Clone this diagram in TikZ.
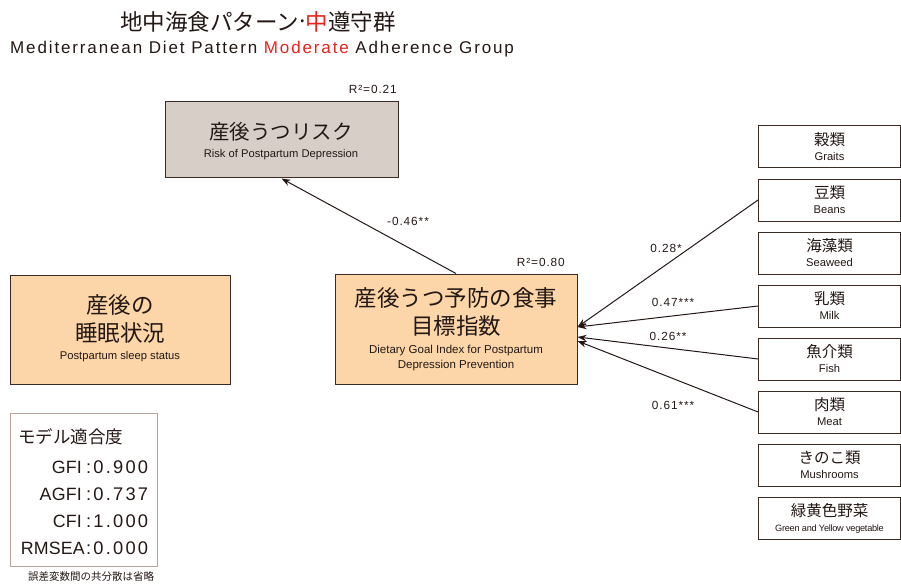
\documentclass[tikz,border=0pt]{standalone}
\usepackage{fontspec}
\setmainfont{Liberation Sans}
\newfontfamily\jp{Noto Sans CJK JP}
\usetikzlibrary{arrows.meta}
\definecolor{boxline}{HTML}{3A2C24}
\definecolor{orangefill}{HTML}{FCD6A8}
\definecolor{riskfill}{HTML}{D8CEC8}
\definecolor{fitline}{HTML}{B4A69C}
\definecolor{accent}{HTML}{E8231F}
\definecolor{txt}{HTML}{231815}
\tikzset{
  mainbox/.style={draw=boxline, line width=1pt, inner sep=0pt, align=center, text=txt},
  foodbox/.style={draw=boxline, line width=0.9pt, fill=white, minimum width=142pt, minimum height=42pt, inner sep=0pt, align=center, text=txt},
  conn/.style={draw=txt, line width=1pt, -{Stealth[length=9pt,width=6.5pt]}},
  coef/.style={font={\addfontfeatures{LetterSpace=8}\fontsize{11.8}{13}\selectfont}, text=txt, inner sep=0pt},
  plain/.style={text=txt, inner sep=0pt},
}
\newcommand{\jpt}[2]{{\jp\fontsize{#1}{#1}\selectfont #2}}
\newcommand{\ent}[2]{{\fontsize{#1}{#1}\selectfont #2}}
\begin{document}
\begin{tikzpicture}[x=1pt,y=-1pt]
\useasboundingbox (0,0) rectangle (901,585);
% title
\node[plain] (title) at (258,22) {\jpt{22.5}{地中海食パターン\kern-3pt\raisebox{1pt}{·}\kern-3pt\textcolor{accent}{中}遵守群}};
\node[plain, anchor=west] (subtitle) at (10,49) {\addfontfeatures{LetterSpace=11}\ent{17}{Mediterranean Diet Pattern \textcolor{accent}{Moderate} Adherence Group}};
% main boxes
\node[mainbox, fill=riskfill, minimum width=233pt, minimum height=76pt] (risk) at (281.5,140) {};
\node[plain] (riskjp) at (281,132) {\jpt{20.5}{産後うつリスク}};
\node[plain] (risken) at (281,155) {\ent{11.2}{Risk of Postpartum Depression}};
\node[coef, anchor=east] (r2risk) at (397,89) {R²=0.21};

\node[mainbox, fill=orangefill, minimum width=242pt, minimum height=110pt] (diet) at (456,329) {};
\node[plain, align=center, font={\jp\fontsize{22.5}{28}\selectfont}] (dietjp) at (456,312) {産後うつ予防の食事\\目標指数};
\node[plain, align=center, font={\fontsize{11.5}{15}\selectfont}] (dieten) at (456,358.5) {Dietary Goal Index for Postpartum\\Depression Prevention};
\node[coef, anchor=east] (r2diet) at (565,262) {R²=0.80};

\node[mainbox, fill=orangefill, minimum width=220pt, minimum height=109pt] (sleep) at (120,329.5) {};
\node[plain, align=center, font={\jp\fontsize{22.5}{28}\selectfont}] (sleepjp) at (120,319) {産後の\\睡眠状況};
\node[plain] (sleepen) at (120,357) {\ent{11.2}{Postpartum sleep status}};

% fit box
\node[draw=fitline, line width=0.9pt, minimum width=147pt, minimum height=153pt, inner sep=0pt] (fit) at (83.5,489.5) {};
\node[plain, anchor=west] (fitttl) at (18,437) {\jpt{17.5}{モデル適合度}};
\foreach \lab/\val/\yy/\xx [count=\i] in {GFI/0.900/467/82, AGFI/0.737/494/82, CFI/1.000/521/82, RMSEA/0.000/548/85}{
  \node[plain, anchor=east] (fitl\i) at (\xx,\yy) {\addfontfeatures{LetterSpace=1}\ent{17.8}{\lab}};
  \node[plain, anchor=west] (fitv\i) at (86,\yy) {\addfontfeatures{LetterSpace=12}\ent{18.3}{:\val}};
}
\node[plain] (note) at (91,577) {\jpt{10.5}{誤差変数間の共分散は省略}};

% food boxes
\foreach \nm/\jpn/\enn/\yy in {grains/穀類/Graits/146.5, beans/豆類/Beans/200, seaweed/海藻類/Seaweed/253, milk/乳類/Milk/306, fish/魚介類/Fish/359, meat/肉類/Meat/412, mush/きのこ類/Mushrooms/465}{
  \node[foodbox] (\nm) at (829.5,\yy) {\jpt{15.5}{\jpn}\\[3pt]\ent{11.2}{\enn}};
}
\node[foodbox] (green) at (829.5,518) {\jpt{15.5}{緑黄色野菜}\\[3pt]{\fontsize{9.2}{9.2}\selectfont\addfontfeatures{LetterSpace=-3}Green and Yellow vegetable}};

% connectors
\draw[conn] (diet.north) -- (risk.south);
\draw[conn] (beans.west) -- ([yshift=2pt]diet.east);
\draw[conn] (milk.west) -- ([yshift=2pt]diet.east);
\draw[conn] (fish.west) -- ([yshift=-8pt]diet.east);
\draw[conn] (meat.west) -- ([yshift=-12pt]diet.east);

% coefficients
\node[coef] (c1) at (408,221) {-0.46**};
\node[coef] (c2) at (666,248) {0.28*};
\node[coef] (c3) at (673,302) {0.47***};
\node[coef] (c4) at (668,336) {0.26**};
\node[coef] (c5) at (673,405) {0.61***};
\end{tikzpicture}
\end{document}
